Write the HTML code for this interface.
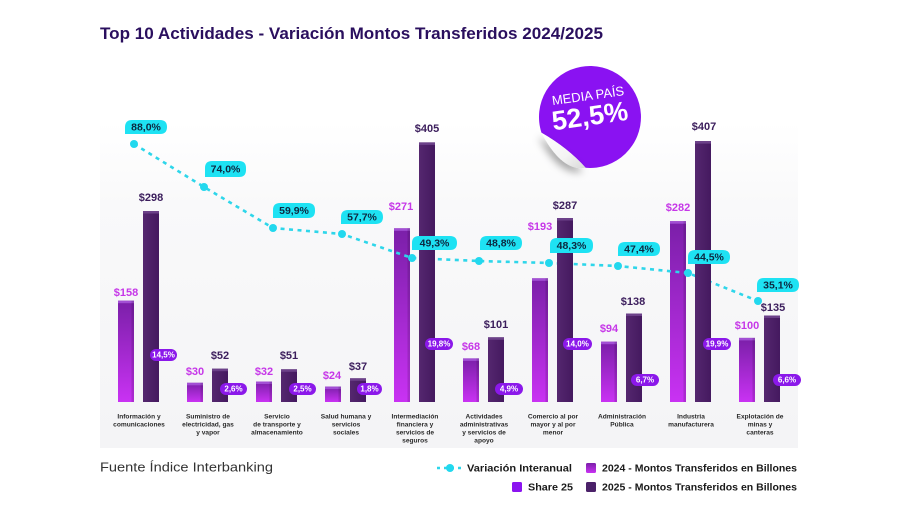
<!DOCTYPE html>
<html><head><meta charset="utf-8"><style>
html,body{margin:0;padding:0;background:#fff;}
svg{display:block;}
text{font-family:"Liberation Sans",sans-serif;}
</style></head><body>
<svg width="900" height="505" viewBox="0 0 900 505" xmlns="http://www.w3.org/2000/svg">
<defs>
<linearGradient id="panel" x1="0" y1="0" x2="0" y2="1">
<stop offset="0" stop-color="#ffffff"/><stop offset="0.25" stop-color="#f9f9fa"/><stop offset="1" stop-color="#f4f4f6"/>
</linearGradient>
<linearGradient id="g24" x1="0" y1="0" x2="0" y2="1">
<stop offset="0" stop-color="#7a1fa8"/><stop offset="1" stop-color="#c932f3"/>
</linearGradient>
<linearGradient id="g25" x1="0" y1="0" x2="1" y2="0">
<stop offset="0" stop-color="#55276f"/><stop offset="1" stop-color="#44195f"/>
</linearGradient>
<linearGradient id="flap" x1="0" y1="0" x2="1" y2="1">
<stop offset="0" stop-color="#ffffff"/><stop offset="0.6" stop-color="#f4f4f4"/><stop offset="1" stop-color="#d8d8d8"/>
</linearGradient>
<filter id="sh" x="-50%" y="-50%" width="200%" height="200%">
<feDropShadow dx="-3" dy="4" stdDeviation="4" flood-color="#000" flood-opacity="0.35"/>
</filter>
</defs>

<text x="100" y="39" font-size="17" font-weight="bold" fill="#2a0f5e" textLength="503" lengthAdjust="spacingAndGlyphs">Top 10 Actividades - Variación Montos Transferidos 2024/2025</text>

<rect x="100" y="122" width="698" height="326" fill="url(#panel)"/>

<g>
<rect x="118" y="300.7" width="16" height="101.3" fill="url(#g24)"/>
<rect x="187" y="382.8" width="16" height="19.2" fill="url(#g24)"/>
<rect x="256" y="381.5" width="16" height="20.5" fill="url(#g24)"/>
<rect x="325" y="386.6" width="16" height="15.4" fill="url(#g24)"/>
<rect x="394" y="228.3" width="16" height="173.7" fill="url(#g24)"/>
<rect x="463" y="358.4" width="16" height="43.6" fill="url(#g24)"/>
<rect x="532" y="278.3" width="16" height="123.7" fill="url(#g24)"/>
<rect x="601" y="341.7" width="16" height="60.3" fill="url(#g24)"/>
<rect x="670" y="221.2" width="16" height="180.8" fill="url(#g24)"/>
<rect x="739" y="337.9" width="16" height="64.1" fill="url(#g24)"/>
</g>
<g fill="#a24fd4">
<rect x="118" y="300.7" width="16" height="2.5"/>
<rect x="187" y="382.8" width="16" height="2.5"/>
<rect x="256" y="381.5" width="16" height="2.5"/>
<rect x="325" y="386.6" width="16" height="2.5"/>
<rect x="394" y="228.3" width="16" height="2.5"/>
<rect x="463" y="358.4" width="16" height="2.5"/>
<rect x="532" y="278.3" width="16" height="2.5"/>
<rect x="601" y="341.7" width="16" height="2.5"/>
<rect x="670" y="221.2" width="16" height="2.5"/>
<rect x="739" y="337.9" width="16" height="2.5"/>
</g>
<g fill="#000" opacity="0.13">
<rect x="131.5" y="300.7" width="2.5" height="101.3"/>
<rect x="200.5" y="382.8" width="2.5" height="19.2"/>
<rect x="269.5" y="381.5" width="2.5" height="20.5"/>
<rect x="338.5" y="386.6" width="2.5" height="15.4"/>
<rect x="407.5" y="228.3" width="2.5" height="173.7"/>
<rect x="476.5" y="358.4" width="2.5" height="43.6"/>
<rect x="545.5" y="278.3" width="2.5" height="123.7"/>
<rect x="614.5" y="341.7" width="2.5" height="60.3"/>
<rect x="683.5" y="221.2" width="2.5" height="180.8"/>
<rect x="752.5" y="337.9" width="2.5" height="64.1"/>
</g>

<polyline points="134,144 204,187 273,228 342,234 412,258 479,261 549,263 618,266 688,273 758,301" fill="none" stroke="#2ed6ea" stroke-width="2.6" stroke-dasharray="4 4.5"/>
<g fill="#22d8ee">
<circle cx="134" cy="144" r="4"/><circle cx="204" cy="187" r="4"/><circle cx="273" cy="228" r="4"/><circle cx="342" cy="234" r="4"/><circle cx="412" cy="258" r="4"/><circle cx="479" cy="261" r="4"/><circle cx="549" cy="263" r="4"/><circle cx="618" cy="266" r="4"/><circle cx="688" cy="273" r="4"/><circle cx="758" cy="301" r="4"/>
</g>

<g fill="url(#g25)">
<rect x="143" y="211" width="16" height="191"/>
<rect x="212" y="368.7" width="16" height="33.3"/>
<rect x="281" y="369.3" width="16" height="32.7"/>
<rect x="350" y="378.3" width="16" height="23.7"/>
<rect x="419" y="142.4" width="16" height="259.6"/>
<rect x="488" y="337.3" width="16" height="64.7"/>
<rect x="557" y="218" width="16" height="184"/>
<rect x="626" y="313.5" width="16" height="88.5"/>
<rect x="695" y="141.1" width="16" height="260.9"/>
<rect x="764" y="315.5" width="16" height="86.5"/>
</g>
<g fill="#6c4189">
<rect x="143" y="211" width="16" height="2.5"/>
<rect x="212" y="368.7" width="16" height="2.5"/>
<rect x="281" y="369.3" width="16" height="2.5"/>
<rect x="350" y="378.3" width="16" height="2.5"/>
<rect x="419" y="142.4" width="16" height="2.5"/>
<rect x="488" y="337.3" width="16" height="2.5"/>
<rect x="557" y="218" width="16" height="2.5"/>
<rect x="626" y="313.5" width="16" height="2.5"/>
<rect x="695" y="141.1" width="16" height="2.5"/>
<rect x="764" y="315.5" width="16" height="2.5"/>
</g>

<g font-size="11" font-weight="bold" text-anchor="middle" dominant-baseline="central" fill="#c637e8">
<text x="126" y="293">$158</text>
<text x="195" y="372">$30</text>
<text x="264" y="372">$32</text>
<text x="332" y="376">$24</text>
<text x="401" y="207">$271</text>
<text x="471" y="347">$68</text>
<text x="540" y="227">$193</text>
<text x="609" y="329">$94</text>
<text x="678" y="208">$282</text>
<text x="747" y="326">$100</text>
</g>
<g font-size="11" font-weight="bold" text-anchor="middle" dominant-baseline="central" fill="#3b1d5c">
<text x="151" y="198">$298</text>
<text x="220" y="356">$52</text>
<text x="289" y="356">$51</text>
<text x="358" y="367">$37</text>
<text x="427" y="129">$405</text>
<text x="496" y="325">$101</text>
<text x="565" y="206">$287</text>
<text x="633" y="302">$138</text>
<text x="704" y="127">$407</text>
<text x="773" y="308">$135</text>
</g>

<g fill="#8b18ea">
<rect x="150" y="349" width="27" height="12" rx="6"/>
<rect x="220" y="383" width="27" height="12" rx="6"/>
<rect x="289" y="383" width="27" height="12" rx="6"/>
<rect x="357" y="383" width="25" height="12" rx="6"/>
<rect x="425" y="338" width="28" height="12" rx="6"/>
<rect x="495" y="383" width="28" height="12" rx="6"/>
<rect x="563" y="338" width="29" height="12" rx="6"/>
<rect x="631" y="374" width="28" height="12" rx="6"/>
<rect x="703" y="338" width="28" height="12" rx="6"/>
<rect x="773" y="374" width="28" height="12" rx="6"/>
</g>
<g font-size="8" font-weight="bold" text-anchor="middle" dominant-baseline="central" fill="#fff">
<text x="163.5" y="355">14,5%</text>
<text x="233.5" y="389">2,6%</text>
<text x="302.5" y="389">2,5%</text>
<text x="369.5" y="389">1,8%</text>
<text x="439" y="344">19,8%</text>
<text x="509" y="389">4,9%</text>
<text x="577.5" y="344">14,0%</text>
<text x="645" y="380">6,7%</text>
<text x="717" y="344">19,9%</text>
<text x="787" y="380">6,6%</text>
</g>

<g fill="#1ee2f3">
<path d="M125,134 L125,127 Q125,120 132,120 L160,120 Q167,120 167,127 Q167,134 160,134 Z"/>
<path d="M205,177 L205,168 Q205,161 212,161 L239,161 Q246,161 246,168 L246,170 Q246,177 239,177 Z"/>
<path d="M273,218 L273,210 Q273,203 280,203 L308,203 Q315,203 315,210 L315,211 Q315,218 308,218 Z"/>
<path d="M341,224 L341,217 Q341,210 348,210 L376,210 Q383,210 383,217 Q383,224 376,224 Z"/>
<path d="M412,250 L412,243 Q412,236 419,236 L450,236 Q457,236 457,243 Q457,250 450,250 Z"/>
<path d="M480,250 L480,243 Q480,236 487,236 L515,236 Q522,236 522,243 Q522,250 515,250 Z"/>
<path d="M550,253 L550,245 Q550,238 557,238 L586,238 Q593,238 593,245 L593,246 Q593,253 586,253 Z"/>
<path d="M618,256 L618,249 Q618,242 625,242 L653,242 Q660,242 660,249 Q660,256 653,256 Z"/>
<path d="M688,264 L688,257 Q688,250 695,250 L723,250 Q730,250 730,257 Q730,264 723,264 Z"/>
<path d="M757,292 L757,285 Q757,278 764,278 L792,278 Q799,278 799,285 Q799,292 792,292 Z"/>
</g>
<g font-size="10.5" font-weight="bold" text-anchor="middle" dominant-baseline="central" fill="#0d2840">
<text x="146" y="127.5">88,0%</text>
<text x="225.5" y="169.5">74,0%</text>
<text x="294" y="211">59,9%</text>
<text x="362" y="217.5">57,7%</text>
<text x="434.5" y="243.5">49,3%</text>
<text x="501" y="243.5">48,8%</text>
<text x="571.5" y="246">48,3%</text>
<text x="639" y="249.5">47,4%</text>
<text x="709" y="257.5">44,5%</text>
<text x="778" y="285.5">35,1%</text>
</g>

<g font-size="6.6" font-weight="bold" text-anchor="middle" fill="#2a2a2a">
<text x="139" y="418.5">Información y</text><text x="139" y="426.5">comunicaciones</text>
<text x="208" y="418.5">Suministro de</text><text x="208" y="426.5">electricidad, gas</text><text x="208" y="434.5">y vapor</text>
<text x="277" y="418.5">Servicio</text><text x="277" y="426.5">de transporte y</text><text x="277" y="434.5">almacenamiento</text>
<text x="346" y="418.5">Salud humana y</text><text x="346" y="426.5">servicios</text><text x="346" y="434.5">sociales</text>
<text x="415" y="418.5">Intermediación</text><text x="415" y="426.5">financiera y</text><text x="415" y="434.5">servicios de</text><text x="415" y="442.5">seguros</text>
<text x="484" y="418.5">Actividades</text><text x="484" y="426.5">administrativas</text><text x="484" y="434.5">y servicios de</text><text x="484" y="442.5">apoyo</text>
<text x="553" y="418.5">Comercio al por</text><text x="553" y="426.5">mayor y al por</text><text x="553" y="434.5">menor</text>
<text x="622" y="418.5">Administración</text><text x="622" y="426.5">Pública</text>
<text x="691" y="418.5">Industria</text><text x="691" y="426.5">manufacturera</text>
<text x="760" y="418.5">Explotación de</text><text x="760" y="426.5">minas y</text><text x="760" y="434.5">canteras</text>
</g>

<path d="M541.5,132.8 A51,51 0 1 1 585.6,167.8 Q568,148 541.5,132.8 Z" fill="#8a12f2"/>
<path d="M541.5,132.8 Q568,148 585.6,167.8 Q562,172 541.5,132.8 Z" fill="url(#flap)" filter="url(#sh)"/>
<g transform="rotate(-8 590 110)" fill="#fff" text-anchor="middle">
<text x="590" y="100" font-size="13">MEDIA PAÍS</text>
<text x="589" y="125" font-size="27" font-weight="bold">52,5%</text>
</g>

<text x="100" y="471.5" font-size="12.5" fill="#333" textLength="173" lengthAdjust="spacingAndGlyphs">Fuente Índice Interbanking</text>

<line x1="437" y1="468" x2="463" y2="468" stroke="#2ed6ea" stroke-width="2.6" stroke-dasharray="3 4"/>
<circle cx="450" cy="468" r="4" fill="#22d8ee"/>
<text x="467" y="471.5" font-size="10.5" font-weight="bold" fill="#1a1a1a" textLength="105" lengthAdjust="spacingAndGlyphs">Variación Interanual</text>
<rect x="586" y="463" width="10" height="10" rx="1.5" fill="url(#g24)"/>
<text x="602" y="471.5" font-size="10.5" font-weight="bold" fill="#1a1a1a" textLength="195" lengthAdjust="spacingAndGlyphs">2024 - Montos Transferidos en Billones</text>
<rect x="512" y="482" width="10" height="10" rx="1.5" fill="#8b14f0"/>
<text x="528" y="490.5" font-size="10.5" font-weight="bold" fill="#1a1a1a" textLength="45" lengthAdjust="spacingAndGlyphs">Share 25</text>
<rect x="586" y="482" width="10" height="10" rx="1.5" fill="#4b2169"/>
<text x="602" y="490.5" font-size="10.5" font-weight="bold" fill="#1a1a1a" textLength="195" lengthAdjust="spacingAndGlyphs">2025 - Montos Transferidos en Billones</text>
</svg>
</body></html>
